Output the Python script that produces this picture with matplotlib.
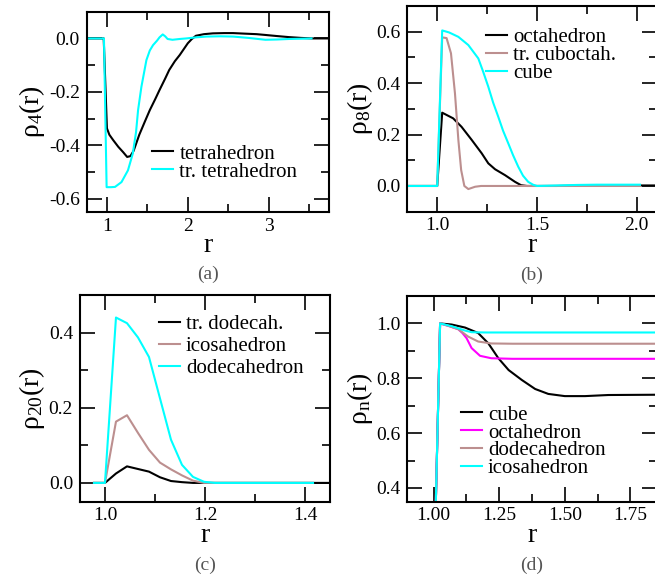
import numpy as np
import matplotlib
matplotlib.use('Agg')
import matplotlib.pyplot as plt
from matplotlib.ticker import MultipleLocator, FormatStrFormatter

plt.rcParams['font.family'] = ['Liberation Serif', 'DejaVu Serif']
plt.rcParams['mathtext.fontset'] = 'custom'
plt.rcParams['mathtext.rm'] = 'Liberation Serif'
plt.rcParams['mathtext.it'] = 'Liberation Serif:italic'
plt.rcParams['mathtext.default'] = 'rm'
plt.rcParams['axes.unicode_minus'] = False

BROWN = '#bc8f8f'
CYAN = '#00ffff'
MAGENTA = '#ff00ff'

# (a) rho_4
tet_x = [0.75, 0.96, 1.0, 1.03, 1.077, 1.14, 1.2, 1.25, 1.29, 1.33, 1.4, 1.47, 1.53,
         1.6, 1.65, 1.72, 1.77, 1.84, 1.9, 1.95, 2.0, 2.05, 2.1, 2.2, 2.31, 2.45,
         2.56, 2.7, 2.85, 2.96, 3.1, 3.25, 3.4, 3.55, 3.75]
tet_y = [0.0, 0.0, -0.336, -0.36, -0.38, -0.405, -0.425, -0.443, -0.44, -0.42, -0.36,
         -0.31, -0.268, -0.225, -0.193, -0.15, -0.118, -0.085, -0.062, -0.04, -0.018,
         -0.002, 0.01, 0.016, 0.019, 0.02, 0.02, 0.018, 0.016, 0.013, 0.009, 0.005,
         0.002, 0.0, 0.0]
ttet_x = [0.75, 0.963, 0.996, 1.05, 1.1, 1.18, 1.26, 1.32, 1.36, 1.385, 1.426, 1.488,
          1.53, 1.57, 1.62, 1.65, 1.69, 1.72, 1.75, 1.81, 1.9, 1.98, 2.1, 2.23, 2.4,
          2.56, 2.75, 2.96, 3.1, 3.25, 3.4, 3.53]
ttet_y = [0.0, 0.0, -0.556, -0.556, -0.555, -0.537, -0.493, -0.43, -0.35, -0.268,
          -0.181, -0.081, -0.045, -0.025, -0.008, 0.004, 0.015, 0.008, -0.002, -0.005,
          -0.002, 0.0, 0.004, 0.007, 0.008, 0.007, 0.002, -0.005, -0.004, -0.002,
          -0.001, 0.0]

# (b) rho_8
oct_x = [0.85, 1.0, 1.025, 1.05, 1.08, 1.122, 1.173, 1.223, 1.256, 1.29, 1.34, 1.39,
         1.42, 1.45, 1.6, 1.8, 2.1]
oct_y = [0.0, 0.0, 0.285, 0.275, 0.263, 0.23, 0.179, 0.127, 0.088, 0.065, 0.042,
         0.016, 0.003, 0.0, 0.0, 0.002, 0.002]
tco_x = [0.85, 1.0, 1.025, 1.047, 1.069, 1.089, 1.106, 1.12, 1.136, 1.156, 1.19, 1.22,
         1.5, 2.016]
tco_y = [0.0, 0.0, 0.578, 0.575, 0.516, 0.36, 0.179, 0.062, 0.0, -0.012, -0.003, 0.0,
         0.0, 0.0]
cube_x = [0.85, 1.0, 1.025, 1.06, 1.106, 1.156, 1.206, 1.23, 1.256, 1.28, 1.306, 1.33,
          1.356, 1.38, 1.406, 1.43, 1.456, 1.48, 1.5, 1.6, 1.7, 1.8, 1.9, 2.016]
cube_y = [0.0, 0.0, 0.605, 0.597, 0.58, 0.548, 0.496, 0.445, 0.386, 0.325, 0.269,
          0.215, 0.166, 0.12, 0.075, 0.04, 0.016, 0.005, 0.0, 0.002, 0.004, 0.005,
          0.005, 0.005]

# (c) rho_20
c_x = [0.978, 1.0, 1.022, 1.044, 1.066, 1.088, 1.11, 1.132, 1.154, 1.176, 1.198, 1.22,
       1.3, 1.416]
trdod_x = c_x + [1.45]
trdod_y = [0, 0, 0.025, 0.044, 0.037, 0.03, 0.015, 0.005, 0.002, 0.0, 0, 0, 0, 0, 0]
icos_y = [0, 0, 0.163, 0.18, 0.133, 0.088, 0.054, 0.036, 0.02, 0.006, 0.0, 0, 0, 0]
dod_y = [0, 0, 0.44, 0.425, 0.387, 0.335, 0.225, 0.115, 0.048, 0.016, 0.003, 0, 0, 0]

# (d) rho_n
cube_d_x = [1.0, 1.025, 1.069, 1.12, 1.17, 1.209, 1.247, 1.286, 1.336, 1.387, 1.437,
            1.5, 1.577, 1.666, 1.85]
cube_d_y = [0.0, 1.0, 0.996, 0.985, 0.965, 0.927, 0.873, 0.83, 0.794, 0.761, 0.743,
            0.735, 0.735, 0.739, 0.74]
oct_d_x = [1.0, 1.025, 1.06, 1.094, 1.11, 1.126, 1.145, 1.177, 1.22, 1.3, 1.85]
oct_d_y = [0.0, 1.0, 0.99, 0.979, 0.965, 0.946, 0.91, 0.882, 0.873, 0.871, 0.871]
dod_d_x = [1.0, 1.025, 1.06, 1.094, 1.132, 1.17, 1.22, 1.3, 1.85]
dod_d_y = [0.0, 1.0, 0.99, 0.979, 0.952, 0.934, 0.927, 0.926, 0.926]
ico_d_x = [1.0, 1.025, 1.069, 1.12, 1.145, 1.2, 1.85]
ico_d_y = [0.0, 1.0, 0.99, 0.974, 0.968, 0.967, 0.967]

fig = plt.figure(figsize=(6.55, 5.76), dpi=100)
ax_a = fig.add_axes([0.1324, 0.6314, 0.3704, 0.3483])
ax_b = fig.add_axes([0.6218, 0.6325, 0.3808, 0.3571])
ax_c = fig.add_axes([0.1221, 0.1290, 0.3817, 0.3589])
ax_d = fig.add_axes([0.6218, 0.1290, 0.3808, 0.3571])

lw = 1.5


def style(ax, xlim, ylim, xmaj, xmin, ymaj, ymin, xfmt, yfmt, ylabel, tag):
    ax.set_xlim(*xlim)
    ax.set_ylim(*ylim)
    ax.xaxis.set_major_locator(MultipleLocator(xmaj))
    ax.xaxis.set_minor_locator(MultipleLocator(xmin))
    ax.yaxis.set_major_locator(MultipleLocator(ymaj))
    ax.yaxis.set_minor_locator(MultipleLocator(ymin))
    ax.xaxis.set_major_formatter(FormatStrFormatter(xfmt))
    ax.yaxis.set_major_formatter(FormatStrFormatter(yfmt))
    ax.tick_params(which='both', direction='in', top=True, right=True,
                   labelsize=14, width=1.2)
    ax.tick_params(which='major', length=11)
    ax.tick_params(which='minor', length=5.5)
    ax.tick_params(axis='x', pad=4)
    ax.tick_params(axis='y', pad=5)
    for s in ax.spines.values():
        s.set_linewidth(1.5)
    ax.set_xlabel('r', fontsize=20, labelpad=-1)
    ax.set_ylabel(ylabel, fontsize=20, labelpad=1)
    ax.text(0.5, -0.31, tag, transform=ax.transAxes, ha='center', va='center',
            fontsize=14, color='#555555')


def legend(ax, x, y, spacing=-0.08):
    ax.legend(loc='upper left', bbox_to_anchor=(x, y), frameon=False, fontsize=15,
              handlelength=1.0, handletextpad=0.3, labelspacing=spacing,
              borderpad=0, borderaxespad=0)


ax_a.plot(tet_x, tet_y, color='black', lw=lw, label='tetrahedron')
ax_a.plot(ttet_x, ttet_y, color=CYAN, lw=lw, label='tr. tetrahedron')
style(ax_a, (0.75, 3.75), (-0.65, 0.1), 1, 0.5, 0.2, 0.1, '%d', '%.1f',
      r'$\rho_4(r)$', '(a)')
legend(ax_a, 0.27, 0.34)

ax_b.plot(oct_x, oct_y, color='black', lw=lw, label='octahedron')
ax_b.plot(tco_x, tco_y, color=BROWN, lw=lw, label='tr. cuboctah.')
ax_b.plot(cube_x, cube_y, color=CYAN, lw=lw, label='cube')
style(ax_b, (0.85, 2.1), (-0.1, 0.7), 0.5, 0.25, 0.2, 0.1, '%.1f', '%.1f',
      r'$\rho_8(r)$', '(b)')
legend(ax_b, 0.315, 0.895)

ax_c.plot(trdod_x, trdod_y, color='black', lw=lw, label='tr. dodecah.')
ax_c.plot(c_x, icos_y, color=BROWN, lw=lw, label='icosahedron')
ax_c.plot(c_x, dod_y, color=CYAN, lw=lw, label='dodecahedron')
style(ax_c, (0.95, 1.45), (-0.05, 0.5), 0.2, 0.1, 0.2, 0.1, '%.1f', '%.1f',
      r'$\rho_{20}(r)$', '(c)')
legend(ax_c, 0.315, 0.905, spacing=0.12)

ax_d.plot(cube_d_x, cube_d_y, color='black', lw=lw, label='cube')
ax_d.plot(oct_d_x, oct_d_y, color=MAGENTA, lw=lw, label='octahedron')
ax_d.plot(dod_d_x, dod_d_y, color=BROWN, lw=lw, label='dodecahedron')
ax_d.plot(ico_d_x, ico_d_y, color=CYAN, lw=lw, label='icosahedron')
style(ax_d, (0.9, 1.85), (0.35, 1.1), 0.25, 0.125, 0.2, 0.1, '%.2f', '%.1f',
      r'$\rho_n(r)$', '(d)')
legend(ax_d, 0.215, 0.47)

fig.savefig('out.png', dpi=100)
